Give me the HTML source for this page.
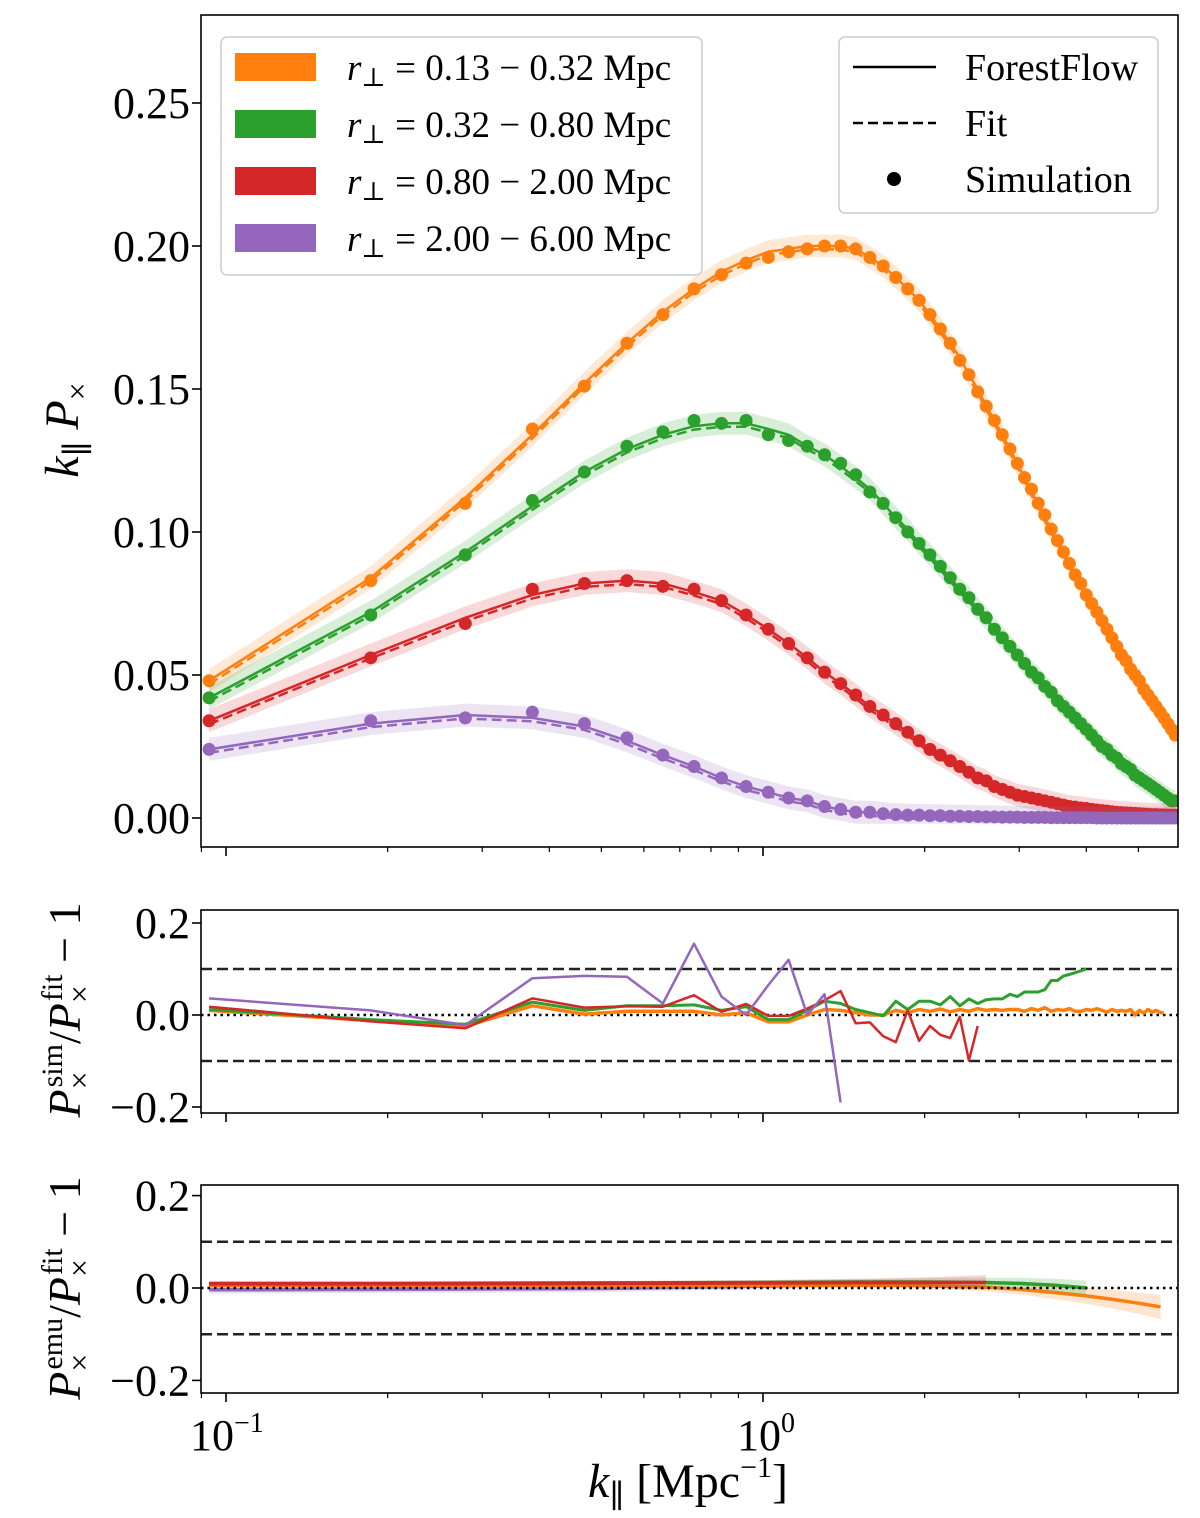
<!DOCTYPE html>
<html><head><meta charset="utf-8">
<style>
html,body{margin:0;padding:0;background:#fff;}
svg{display:block;font-family:"Liberation Serif","DejaVu Serif",serif;}
</style></head>
<body>
<svg id="chart" width="1200" height="1518" viewBox="0 0 1200 1518" xmlns="http://www.w3.org/2000/svg"></svg>
<script>
// ---- data ----
const kStep = 0.093; // k_n = n * kStep
const simOrange = [.048,.083,.110,.136,.151,.166,.176,.185,.190,.194,.196,.198,.199,.200,.200,.199,.196,.193,.189,.185,.181,.176,.171,.166,.160,.155,.149,.144,.139,.134,.129,.124,.119,.115,.110,.106,.101,.097,.093,.089,.085,.082,.078,.075,.072,.069,.066,.063,.060,.057,.055,.052,.050,.048,.045,.043,.041,.039,.037,.035,.033,.031,.029];
const simGreen = [.042,.071,.092,.111,.121,.130,.135,.139,.138,.139,.134,.132,.130,.127,.124,.120,.114,.110,.105,.100,.096,.092,.088,.084,.080,.077,.073,.070,.066,.063,.060,.057,.054,.051,.049,.046,.044,.041,.039,.037,.035,.033,.031,.029,.027,.025,.024,.022,.021,.019,.018,.017,.015,.014,.013,.012,.011,.010,.009,.008,.007,.006,.006];
const simRed = [.034,.056,.068,.080,.082,.083,.081,.080,.076,.071,.066,.061,.056,.051,.047,.043,.039,.036,.033,.030,.027,.024,.022,.020,.018,.016,.014,.013,.011,.010,.009,.008,.0075,.007,.0065,.006,.0055,.005,.0045,.004,.0038,.0035,.0033,.003,.0028,.0026,.0024,.0022,.002,.0019,.0018,.0017,.0016,.0015,.0014,.0013,.0012,.0012,.0011,.0011,.001,.001,.001];
const simPurple = [.024,.034,.035,.037,.033,.028,.022,.018,.014,.011,.009,.007,.006,.004,.003,.002,.002,.0015,.0012,.001,.001,.0008,.0008,.0006,.0006,.0005,.0005,.0004,.0004,.0003,.0003,.0003,.0002,.0002,.0002,.0002,.0001,.0001,.0001,.0001,.0001,.0001,.0001,.0001,0,0,0,0,0,0,0,0,0,0,0,0,0,0,0,0,0,0,0];
const fitOrange = [.048,.084,.112,.134,.152,.166,.177,.185,.191,.195,.198,.199,.200,.200,.200,.199,.196,.193,.189,.185,.181,.176,.171,.166,.161,.155,.150,.144,.139,.134,.129,.124,.119,.114,.110,.105,.101,.097,.093,.089,.085,.082,.078,.075,.072,.069,.066,.063,.060,.057,.055,.052,.050,.047,.045,.043,.041,.039,.037,.035,.033,.031,.029];
const fitGreen = [.042,.072,.093,.109,.121,.129,.134,.137,.138,.138,.136,.134,.130,.127,.123,.119,.115,.110,.105,.101,.096,.092,.088,.084,.080,.077,.073,.070,.066,.063,.060,.057,.054,.051,.049,.046,.044,.041,.039,.037,.035,.033,.031,.029,.027,.025,.024,.022,.021,.019,.018,.017,.015,.014,.013,.012,.011,.010,.009,.008,.007,.006,.006];
const fitRed = [.034,.057,.070,.078,.082,.083,.082,.079,.076,.071,.066,.061,.056,.051,.047,.043,.039,.036,.033,.030,.027,.024,.022,.020,.018,.016,.014,.013,.011,.010,.009,.008,.0075,.007,.0065,.006,.0055,.005,.0045,.004,.0038,.0035,.0033,.003,.0028,.0026,.0024,.0022,.002,.0019,.0018,.0017,.0016,.0015,.0014,.0013,.0012,.0012,.0011,.0011,.001,.001,.001];
const fitPurple = [.024,.033,.036,.035,.032,.027,.022,.018,.014,.011,.009,.007,.006,.004,.003,.002,.002,.0015,.0012,.001,.001,.0008,.0008,.0006,.0006,.0005,.0005,.0004,.0004,.0003,.0003,.0003,.0002,.0002,.0002,.0002,.0001,.0001,.0001,.0001,.0001,.0001,.0001,.0001,0,0,0,0,0,0,0,0,0,0,0,0,0,0,0,0,0,0,0];
const resOrange = [.010,-.012,-.025,.020,.002,.008,.008,.008,0,.005,-.015,-.015,0,.012,.010,.005,0,0,.010,.005,.012,.008,.013,.007,.012,.008,.014,.010,.012,.010,.012,.012,.008,.014,.010,.016,.008,.012,.010,.014,.008,.008,.012,.010,.014,.010,.006,.012,.008,.010,.008,.012,.0,.010,.004,.012,.006,.010,.006,.004];
const resGreen = [.012,-.010,-.020,.028,.010,.020,.020,.022,.010,.018,-.010,-.010,.010,.030,.025,.012,.005,-.002,.030,.012,.030,.030,.022,.040,.020,.035,.025,.033,.035,.035,.045,.040,.050,.050,.050,.055,.075,.075,.085,.088,.092,.096,.100];
const resRed = [.018,-.014,-.029,.036,.016,.019,.018,.043,.007,.024,-.002,-.002,.014,.032,.052,-.018,-.016,-.046,-.059,.010,-.056,-.024,-.043,-.050,-.004,-.099,-.024];
const resPurple = [.036,.010,-.022,.080,.085,.083,.025,.155,.040,0,.065,.120,0,.045,-.190];
const emuK = [0.093,0.2,0.5,1.0,1.5,2.0,2.6,3.0,3.5,4.0,4.5,5.0,5.5];
const emuOrange = [.005,.005,.005,.006,.006,.005,.002,-.003,-.010,-.017,-.025,-.033,-.041];
const emuOrangeErr = [.004,.004,.004,.005,.006,.007,.009,.011,.014,.017,.020,.023,.026];
const emuGreen = [.010,.010,.011,.012,.013,.013,.012,.010,.006,.000];
const emuGreenErr = [.004,.004,.004,.005,.006,.008,.010,.012,.014,.016];
const emuRed = [.009,.009,.010,.011,.012,.012,.012];
const emuRedErr = [.005,.005,.005,.006,.008,.011,.016];
const emuPurple = [-.004,-.003,-.001,.004,.008];
const emuPurpleErr = [.008,.008,.008,.007,.006];
const yTicksTop = [0,0.05,0.10,0.15,0.20,0.25];
const yTicksRes = [-0.2,0,0.2];

// ---- geometry ----
const NS = "http://www.w3.org/2000/svg";
const svg = document.getElementById("chart");
const X0 = 201, X1 = 1178;
const xScale = k => 226 + 537 * (Math.log10(k) + 1);
const yTop = v => 818 - v * 2860;
const yMid = v => 1015 - v * 460;
const yBot = v => 1288 - v * 462;
const COL = {orange:"#ff7f0e", green:"#2ca02c", red:"#d62728", purple:"#9467bd"};

function mk(tag, attrs, parent){
  const e = document.createElementNS(NS, tag);
  for (const a in attrs) e.setAttribute(a, attrs[a]);
  (parent || svg).appendChild(e);
  return e;
}
function pathFrom(xs, ys){
  return xs.map((x,i)=>(i?"L":"M")+x.toFixed(1)+","+ys[i].toFixed(1)).join("");
}
const kn = n => (n+1) * kStep;

const defs = mk("defs", {});
[["clipTop",15,847],["clipMid",910,1113],["clipBot",1185,1393]].forEach(c=>{
  const cp = mk("clipPath", {id:c[0]}, defs);
  mk("rect", {x:X0, y:c[1], width:X1-X0, height:c[2]-c[1]}, cp);
});

const gTop = mk("g", {"clip-path":"url(#clipTop)"});


const topSeries = [["orange",simOrange,fitOrange],["green",simGreen,fitGreen],["red",simRed,fitRed],["purple",simPurple,fitPurple]];
topSeries.forEach(([name, sim, fit])=>{
  const xs = fit.map((v,i)=>xScale(kn(i)));
  const up = fit.map(v=>yTop(v+0.004)), lo = fit.map(v=>yTop(Math.max(v-0.004,-0.002)));
  const bandD = pathFrom(xs, up) + pathFrom(xs.slice().reverse(), lo.slice().reverse()).replace("M","L") + "Z";
  const band = mk("path", {d:bandD, fill:COL[name], "fill-opacity":0.18, stroke:"none"}, gTop);
  
  
  const ff = mk("path", {d:pathFrom(xs, fit.map(yTop)), fill:"none", stroke:COL[name], "stroke-width":2.5}, gTop);
  
  
  const ft = mk("path", {d:pathFrom(xs, fit.map(v=>yTop(v-0.0012))), fill:"none", stroke:COL[name], "stroke-width":2.5, "stroke-dasharray":"10,5"}, gTop);
  
  
  sim.forEach((v,i)=>{
    const c = mk("circle", {cx:xScale(kn(i)), cy:yTop(v), r:6.5, fill:COL[name]}, gTop);
    
    
  });
});

const gMid = mk("g", {"clip-path":"url(#clipMid)"});


[0.1,-0.1].forEach(v=>{
  const l = mk("line", {x1:X0, x2:X1, y1:yMid(v), y2:yMid(v), stroke:"#222", "stroke-width":2.5, "stroke-dasharray":"11,5"}, gMid);
  
  
});
const zm = mk("line", {x1:X0, x2:X1, y1:yMid(0), y2:yMid(0), stroke:"#000", "stroke-width":2.5, "stroke-dasharray":"2.5,4"}, gMid);


[["orange",resOrange,3.5],["green",resGreen,3],["red",resRed,2.5],["purple",resPurple,2.5]].forEach(([name,res,w])=>{
  const xs = res.map((v,i)=>xScale(kn(i)));
  const p = mk("path", {d:pathFrom(xs, res.map(yMid)), fill:"none", stroke:COL[name], "stroke-width":w, "stroke-linejoin":"round"}, gMid);
  
  
});

const gBot = mk("g", {"clip-path":"url(#clipBot)"});


[0.1,-0.1].forEach(v=>{
  const l = mk("line", {x1:X0, x2:X1, y1:yBot(v), y2:yBot(v), stroke:"#222", "stroke-width":2.5, "stroke-dasharray":"11,5"}, gBot);
  
  
});
[["purple",emuPurple,emuPurpleErr],["orange",emuOrange,emuOrangeErr],["green",emuGreen,emuGreenErr],["red",emuRed,emuRedErr]].forEach(([name,vals,err])=>{
  const xs = vals.map((v,i)=>xScale(emuK[i]));
  const up = vals.map((v,i)=>yBot(v+err[i])), lo = vals.map((v,i)=>yBot(v-err[i]));
  const d = pathFrom(xs, up) + pathFrom(xs.slice().reverse(), lo.slice().reverse()).replace("M","L") + "Z";
  const b = mk("path", {d:d, fill:COL[name], "fill-opacity":0.2}, gBot);
  
  
  const p = mk("path", {d:pathFrom(xs, vals.map(yBot)), fill:"none", stroke:COL[name], "stroke-width":3.5}, gBot);
  
  
});
const zb = mk("line", {x1:X0, x2:X1, y1:yBot(0), y2:yBot(0), stroke:"#000", "stroke-width":2.5, "stroke-dasharray":"2.5,4"}, gBot);



function frame(top, bottom, name){
  const r = mk("rect", {x:X0, y:top, width:X1-X0, height:bottom-top, fill:"none", stroke:"#000", "stroke-width":1.6});
  
  
  [0.1,1].forEach(k=>mk("line",{x1:xScale(k),x2:xScale(k),y1:bottom,y2:bottom+9,stroke:"#000","stroke-width":1.6}));
  [0.09,0.2,0.3,0.4,0.5,0.6,0.7,0.8,0.9,2,3,4,5].forEach(k=>{
    const x = xScale(k); if (x<X0) return;
    mk("line",{x1:x,x2:x,y1:bottom,y2:bottom+5,stroke:"#000","stroke-width":1.2});
  });
}
frame(15, 847, 'main-panel-frame');
frame(910, 1113, 'sim-residual-frame');
frame(1185, 1393, 'emu-residual-frame');

function ytick(y, label, name){
  mk("line",{x1:X0-9,x2:X0,y1:y,y2:y,stroke:"#000","stroke-width":1.6});
  const t = mk("text",{x:190,y:y+15,"text-anchor":"end","font-size":44});
  t.textContent = label;
  
  
}
yTicksTop.forEach(v=>ytick(yTop(v), v.toFixed(2), 'y-tick-label'));
yTicksRes.forEach(v=>ytick(yMid(v), (v<0?"\u2212":"")+Math.abs(v).toFixed(1), 'y-tick-label'));
yTicksRes.forEach(v=>ytick(yBot(v), (v<0?"\u2212":"")+Math.abs(v).toFixed(1), 'y-tick-label'));
</script>

<svg style="position:absolute;left:0;top:0" width="1200" height="1518" xmlns="http://www.w3.org/2000/svg" font-family="Liberation Serif, DejaVu Serif, serif">
  <text x="190" y="1450" font-size="44">10<tspan dy="-18" font-size="28">−1</tspan></text>
  <text x="737" y="1450" font-size="44">10<tspan dy="-18" font-size="28">0</tspan></text>
  <text x="688" y="1497" font-size="48" text-anchor="middle"><tspan font-style="italic">k</tspan><tspan dy="10" font-size="32">∥</tspan><tspan dy="-10"> [Mpc</tspan><tspan dy="-20" font-size="30">−1</tspan><tspan dy="20">]</tspan></text>
  <text transform="translate(78,430) rotate(-90)" font-size="48" text-anchor="middle"><tspan font-style="italic">k</tspan><tspan dy="10" font-size="32">∥</tspan><tspan dy="-10" font-style="italic"> P</tspan><tspan dy="10" font-size="32">×</tspan></text>
  <text transform="translate(80,1010) rotate(-90)" font-size="46" text-anchor="middle"><tspan font-style="italic">P</tspan><tspan dy="10" font-size="32">×</tspan><tspan dx="-16" dy="-28" font-size="30">sim</tspan><tspan dy="18">/</tspan><tspan font-style="italic">P</tspan><tspan dy="10" font-size="32">×</tspan><tspan dx="-16" dy="-28" font-size="30">fit</tspan><tspan dy="18"> − 1</tspan></text>
  <text transform="translate(80,1288) rotate(-90)" font-size="46" text-anchor="middle"><tspan font-style="italic">P</tspan><tspan dy="10" font-size="32">×</tspan><tspan dx="-16" dy="-28" font-size="30">emu</tspan><tspan dy="18">/</tspan><tspan font-style="italic">P</tspan><tspan dy="10" font-size="32">×</tspan><tspan dx="-16" dy="-28" font-size="30">fit</tspan><tspan dy="18"> − 1</tspan></text>

  <g>
    <rect x="221" y="37" width="481" height="238" rx="6" fill="#fff" fill-opacity="0.85" stroke="#ccc" stroke-width="1.5"/>
    <rect x="235" y="53" width="81" height="28" fill="#ff7f0e"/>
    <rect x="235" y="110" width="81" height="28" fill="#2ca02c"/>
    <rect x="235" y="167" width="81" height="28" fill="#d62728"/>
    <rect x="235" y="224" width="81" height="28" fill="#9467bd"/>
    <text x="347" y="80" font-size="37"><tspan font-style="italic">r</tspan><tspan dy="6" font-size="26">⊥</tspan><tspan dy="-6"> = 0.13 − 0.32 Mpc</tspan></text>
    <text x="347" y="137" font-size="37"><tspan font-style="italic">r</tspan><tspan dy="6" font-size="26">⊥</tspan><tspan dy="-6"> = 0.32 − 0.80 Mpc</tspan></text>
    <text x="347" y="194" font-size="37"><tspan font-style="italic">r</tspan><tspan dy="6" font-size="26">⊥</tspan><tspan dy="-6"> = 0.80 − 2.00 Mpc</tspan></text>
    <text x="347" y="251" font-size="37"><tspan font-style="italic">r</tspan><tspan dy="6" font-size="26">⊥</tspan><tspan dy="-6"> = 2.00 − 6.00 Mpc</tspan></text>
  </g>
  <g>
    <rect x="839" y="37" width="319" height="176" rx="6" fill="#fff" fill-opacity="0.85" stroke="#ccc" stroke-width="1.5"/>
    <line x1="853" x2="936" y1="67" y2="67" stroke="#000" stroke-width="2.5"/>
    <line x1="853" x2="936" y1="123" y2="123" stroke="#000" stroke-width="2.5" stroke-dasharray="10,5"/>
    <circle cx="894" cy="179" r="7" fill="#000"/>
    <text x="965" y="80" font-size="38">ForestFlow</text>
    <text x="965" y="136" font-size="38">Fit</text>
    <text x="965" y="192" font-size="38">Simulation</text>
  </g>
</svg>
</body></html>
